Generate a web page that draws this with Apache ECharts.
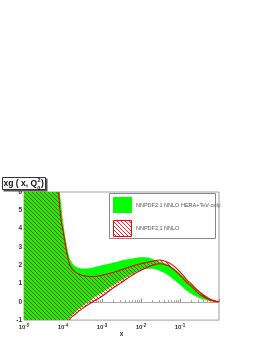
<!DOCTYPE html>
<html>
<head>
<meta charset="utf-8">
<script src="https://cdn.jsdelivr.net/npm/echarts@6/dist/echarts.min.js"></script>
<style>
html,body{margin:0;padding:0;background:#fff;}
#chart{width:262px;height:339px;}
</style>
</head>
<body>
<div id="chart"></div>
<script>
// x grid (momentum fraction)
const xs = [1e-5, 2e-5, 3e-5, 5e-5, 7e-5, 8e-5, 9e-5, 1e-4, 1.2e-4, 1.5e-4, 2e-4, 3e-4, 5e-4, 7e-4, 1e-3, 2e-3, 3e-3, 5e-3, 7e-3, 1e-2, 1.5e-2, 2e-2, 3e-2, 5e-2, 7e-2, 0.1, 0.15, 0.2, 0.3, 0.4, 0.5, 0.6, 0.7, 0.8, 0.9, 1.0];
// NNPDF2.1 NNLO HERA+TeV-only band (green)
const greenUpper = [14, 12, 11, 9.5, 7.8, 6.3, 5.3, 4.4, 3.3, 2.35, 1.95, 1.82, 1.85, 1.92, 2.0, 2.15, 2.25, 2.35, 2.4, 2.44, 2.42, 2.33, 2.2, 2.03, 1.83, 1.55, 1.18, 0.95, 0.6, 0.38, 0.23, 0.14, 0.08, 0.04, 0.012, 0];
const greenLower = [-12, -10, -9, -7, -5, -4, -3, -2.2, -1.4, -0.88, -0.6, -0.28, 0.08, 0.3, 0.5, 0.92, 1.15, 1.42, 1.6, 1.75, 1.8, 1.8, 1.7, 1.45, 1.2, 0.93, 0.6, 0.42, 0.22, 0.12, 0.07, 0.04, 0.02, 0.01, 0.003, 0];
// NNPDF2.1 NNLO band (red hatched)
const redUpper = [14, 12, 10.5, 9, 7.2, 5.5, 4.4, 3.9, 2.9, 2.0, 1.65, 1.45, 1.38, 1.4, 1.45, 1.62, 1.74, 1.9, 2.0, 2.08, 2.16, 2.22, 2.28, 2.15, 1.95, 1.64, 1.2, 0.95, 0.58, 0.37, 0.23, 0.14, 0.08, 0.04, 0.015, 0];
const redLower = [-12, -10, -9, -7, -5, -4.2, -3.3, -2.5, -1.6, -0.95, -0.7, -0.4, -0.08, 0.1, 0.3, 0.78, 1.02, 1.35, 1.55, 1.72, 1.9, 2.0, 2.08, 1.97, 1.75, 1.46, 1.05, 0.82, 0.45, 0.28, 0.16, 0.09, 0.05, 0.02, 0.005, 0];
const yTicks = [-1, 0, 1, 2, 3, 4, 5, 6];
const zeroLineY = 0;
const legendNames = ['NNPDF2.1 NNLO HERA+TeV-only', 'NNPDF2.1 NNLO'];

// hatch pattern
const pc = document.createElement('canvas');
pc.width = 4; pc.height = 4;
const pctx = pc.getContext('2d');
pctx.fillStyle = 'rgba(255,0,0,0.85)';
for (let i = 0; i < 4; i++) pctx.fillRect(i, i, 1, 1);
const hatch = { image: pc, repeat: 'repeat' };

const chart = echarts.init(document.getElementById('chart'), null, { renderer: 'canvas' });
const FONT = 'Liberation Sans, Arial, Helvetica, sans-serif';
const SMOOTH = 0.3;

function clipOf(params) {
  const cs = params.coordSys;
  return { type: 'rect', shape: { x: cs.x, y: cs.y, width: cs.width, height: cs.height } };
}

function bandSeries(name, upper, lower, fill, z) {
  return {
    type: 'custom', name: name, z: z, silent: true, animation: false, clip: true,
    data: xs.map((x, i) => [x, upper[i], lower[i]]),
    encode: { x: 0, y: [1, 2] },
    renderItem: function (params, api) {
      if (params.dataIndex !== 0) return null;
      const top = xs.map((x, i) => api.coord([x, upper[i]]));
      const bot = xs.map((x, i) => api.coord([x, lower[i]])).reverse().slice(1);
      return {
        type: 'group', clipPath: clipOf(params),
        children: [{ type: 'polygon', shape: { points: top.concat(bot), smooth: SMOOTH }, style: { fill: fill, stroke: null } }]
      };
    }
  };
}

function edgeSeries(name, vals, z) {
  return {
    type: 'custom', name: name, z: z, silent: true, animation: false, clip: true,
    data: xs.map((x, i) => [x, vals[i]]),
    encode: { x: 0, y: 1 },
    renderItem: function (params, api) {
      if (params.dataIndex !== 0) return null;
      const pts = xs.map((x, i) => api.coord([x, vals[i]]));
      return {
        type: 'group', clipPath: clipOf(params),
        children: [{ type: 'polyline', shape: { points: pts, smooth: SMOOTH }, style: { fill: null, stroke: '#e80000', lineWidth: 1.1 } }]
      };
    }
  };
}

chart.setOption({
  animation: false,
  grid: { left: 24, right: 43, top: 192, bottom: 16, show: true, borderColor: '#a0a0a0', borderWidth: 1, backgroundColor: 'transparent' },
  xAxis: {
    type: 'log', logBase: 10, min: 1e-5, max: 1,
    name: 'x', nameLocation: 'middle', nameGap: 9,
    nameTextStyle: { fontFamily: FONT, fontWeight: 'bold', fontSize: 6.5, color: '#333' },
    axisLine: { show: false },
    axisTick: { show: true, inside: true, length: 3, lineStyle: { color: '#888' } },
    minorTick: { show: true, splitNumber: 9, length: 1.5, lineStyle: { color: '#888' } },
    splitLine: { show: false },
    axisLabel: {
      margin: 3, showMaxLabel: false,
      formatter: (v) => {
        const e = Math.round(Math.log10(v));
        if (e >= 0) return '';
        return '{b|10}{s|' + e + '}';
      },
      rich: {
        b: { fontFamily: FONT, fontWeight: 'bold', fontSize: 6, color: '#333' },
        s: { fontFamily: FONT, fontWeight: 'bold', fontSize: 4.5, color: '#333', verticalAlign: 'top', padding: [0, 0, 3, 0] }
      }
    }
  },
  yAxis: {
    type: 'value', min: yTicks[0], max: yTicks[yTicks.length - 1], interval: 1,
    axisLine: { show: false }, axisTick: { show: false }, splitLine: { show: false },
    axisLabel: { margin: 2, fontFamily: FONT, fontWeight: 'bold', fontSize: 6.5, color: '#333' }
  },
  series: [
    {
      type: 'custom', name: 'zero', z: 1, silent: true, animation: false,
      data: [[1, zeroLineY]], encode: { x: 0, y: 1 },
      renderItem: function (params, api) {
        const cs = params.coordSys;
        const y = Math.round(api.coord([1, zeroLineY])[1]) + 0.5;
        return { type: 'line', shape: { x1: cs.x, y1: y, x2: cs.x + cs.width, y2: y }, style: { stroke: '#a8a8a8', lineWidth: 1 } };
      }
    },
    bandSeries(legendNames[0], greenUpper, greenLower, '#00ff00', 2),
    bandSeries(legendNames[1], redUpper, redLower, hatch, 3),
    edgeSeries('rUp', redUpper, 4),
    edgeSeries('rLo', redLower, 4)
  ],
  graphic: [
    // title box
    { type: 'rect', z: 100, shape: { x: 3.5, y: 178.5, width: 44, height: 13 }, style: { fill: '#555' } },
    { type: 'rect', z: 101, shape: { x: 2.5, y: 177.5, width: 43, height: 12 }, style: { fill: '#fff', stroke: '#333', lineWidth: 1 } },
    { type: 'text', z: 102, x: 3.5, y: 184, style: { text: 'xg ( x, Q', fontFamily: FONT, fontWeight: 'bold', fontSize: 8.5, fill: '#111', verticalAlign: 'middle' } },
    { type: 'text', z: 102, x: 37.5, y: 180.5, style: { text: '2', fontFamily: FONT, fontWeight: 'bold', fontSize: 5.5, fill: '#111', verticalAlign: 'middle' } },
    { type: 'text', z: 102, x: 37.2, y: 188, style: { text: '0', fontFamily: FONT, fontWeight: 'bold', fontSize: 5.5, fill: '#111', verticalAlign: 'middle' } },
    { type: 'text', z: 102, x: 41, y: 184, style: { text: ')', fontFamily: FONT, fontWeight: 'bold', fontSize: 8.5, fill: '#111', verticalAlign: 'middle' } },
    // legend box
    { type: 'rect', z: 100, shape: { x: 109.5, y: 193.5, width: 106, height: 45 }, style: { fill: '#fff', stroke: '#888', lineWidth: 1 } },
    { type: 'rect', z: 101, shape: { x: 113, y: 197, width: 19, height: 16 }, style: { fill: '#00ff00' } },
    { type: 'rect', z: 101, shape: { x: 113.5, y: 220.5, width: 18, height: 16 }, style: { fill: hatch, stroke: '#ff0000', lineWidth: 1 } },
    { type: 'text', z: 102, x: 136, y: 205.5, style: { text: legendNames[0], fontFamily: FONT, fontSize: 5.5, fill: '#555', verticalAlign: 'middle' } },
    { type: 'text', z: 102, x: 136, y: 228.5, style: { text: legendNames[1], fontFamily: FONT, fontSize: 5.5, fill: '#555', verticalAlign: 'middle' } }
  ]
});
</script>
</body>
</html>
